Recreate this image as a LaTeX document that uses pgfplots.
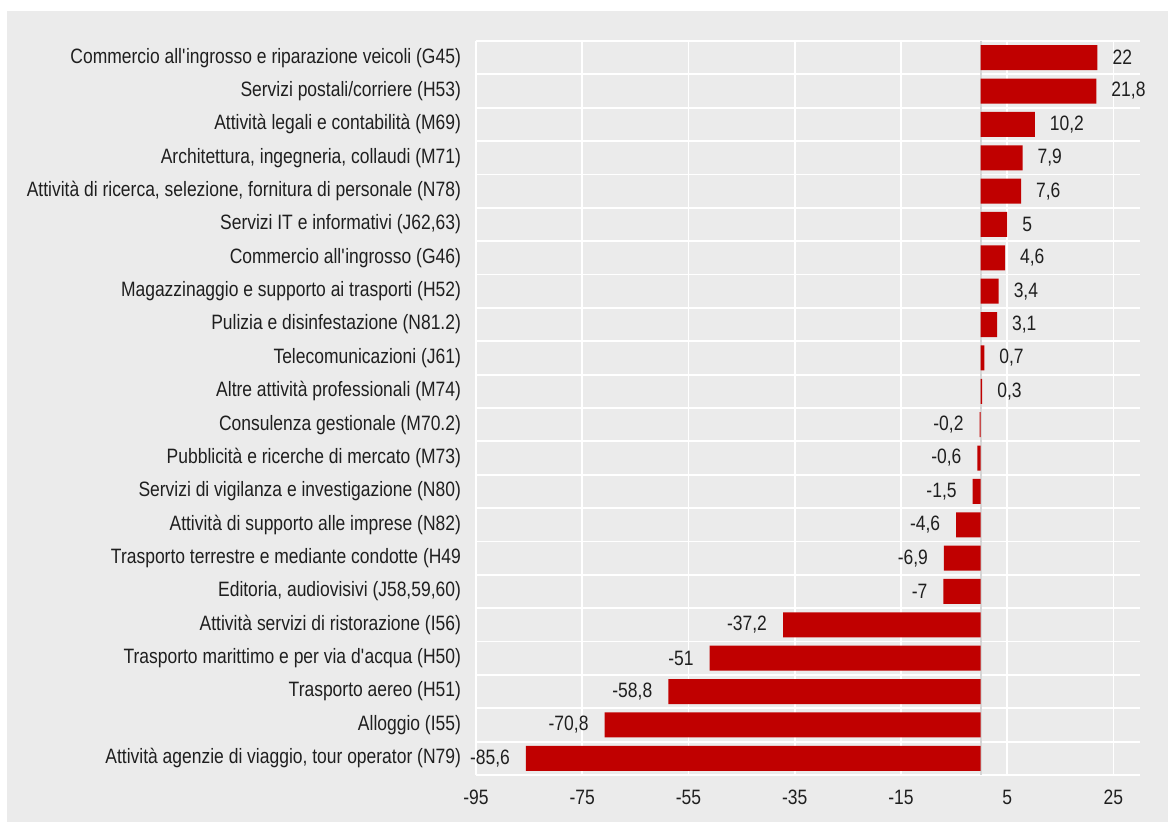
\documentclass[border=0pt]{standalone}
\usepackage{pgfplots}
\pgfplotsset{compat=1.18}
\usepackage{fontspec}
\setmainfont{Liberation Sans}[FakeStretch=0.84]
\definecolor{panel}{HTML}{EBEBEB}
\definecolor{barred}{HTML}{C00000}
\definecolor{zeroline}{HTML}{D6D6D6}
\newcommand{\ap}{\textquotesingle}
\begin{document}
\begin{tikzpicture}
\useasboundingbox (0pt,0pt) rectangle (584pt,411pt);
\fill[white] (0pt,0pt) rectangle (584pt,411pt);
\fill[panel] (3.5pt,0pt) rectangle (584pt,405.5pt);
\begin{axis}[
  at={(238pt,23.5pt)}, anchor=south west,
  scale only axis, width=332pt, height=367pt,
  xmin=-95, xmax=30,
  ymin=-0.5, ymax=21.5, y dir=reverse,
  xtick={-95,-75,-55,-35,-15,5,25},
  ytick={0,...,21},
  minor ytick={-0.5,0.5,...,21.5},
  yticklabels={
    {Commercio all\ap ingrosso e riparazione veicoli (G45)},
    {Servizi postali/corriere (H53)},
    {Attività legali e contabilità (M69)},
    {Architettura, ingegneria, collaudi (M71)},
    {Attività di ricerca, selezione, fornitura di personale (N78)},
    {Servizi IT e informativi (J62,63)},
    {Commercio all\ap ingrosso (G46)},
    {Magazzinaggio e supporto ai trasporti (H52)},
    {Pulizia e disinfestazione (N81.2)},
    {Telecomunicazioni (J61)},
    {Altre attività professionali (M74)},
    {Consulenza gestionale (M70.2)},
    {Pubblicità e ricerche di mercato (M73)},
    {Servizi di vigilanza e investigazione (N80)},
    {Attività di supporto alle imprese (N82)},
    {Trasporto terrestre e mediante condotte (H49},
    {Editoria, audiovisivi (J58,59,60)},
    {Attività servizi di ristorazione (I56)},
    {Trasporto marittimo e per via d\ap acqua (H50)},
    {Trasporto aereo (H51)},
    {Alloggio (I55)},
    {Attività agenzie di viaggio, tour operator (N79)}},
  axis line style={draw=none},
  major tick length=0pt, minor tick length=0pt,
  xmajorgrids, yminorgrids,
  grid style={white, line width=0.9pt},
  minor grid style={white, line width=0.9pt},
  tick label style={font=\fontsize{10.4}{12}\selectfont, text=black!88},
  yticklabel style={xshift=-4pt},
  xticklabel style={yshift=-4pt},
  /pgf/number format/assume math mode=true,
  /pgf/number format/use comma,
  /pgf/number format/1000 sep={},
  xbar, bar width=12.5pt, bar shift=0pt,
  nodes near coords,
  every node near coord/.append style={font=\fontsize{10.4}{12}\selectfont, text=black!88},
  clip=false,
]
\draw[zeroline, line width=0.9pt] (axis cs:0,-0.5) -- (axis cs:0,21.5);
\addplot[fill=barred, draw=none,
  nodes near coords align={horizontal},
  every node near coord/.append style={anchor=west, xshift=4pt}]
  coordinates {(22,0) (21.8,1) (10.2,2) (7.9,3) (7.6,4) (5,5) (4.6,6) (3.4,7) (3.1,8) (0.7,9) (0.3,10)};
\addplot[fill=barred, draw=none,
  nodes near coords align={horizontal},
  every node near coord/.append style={anchor=east, xshift=-4.5pt}]
  coordinates {(-0.2,11) (-0.6,12) (-1.5,13) (-4.6,14) (-6.9,15) (-7,16) (-37.2,17) (-51,18) (-58.8,19) (-70.8,20) (-85.6,21)};
\end{axis}
\end{tikzpicture}
\end{document}
